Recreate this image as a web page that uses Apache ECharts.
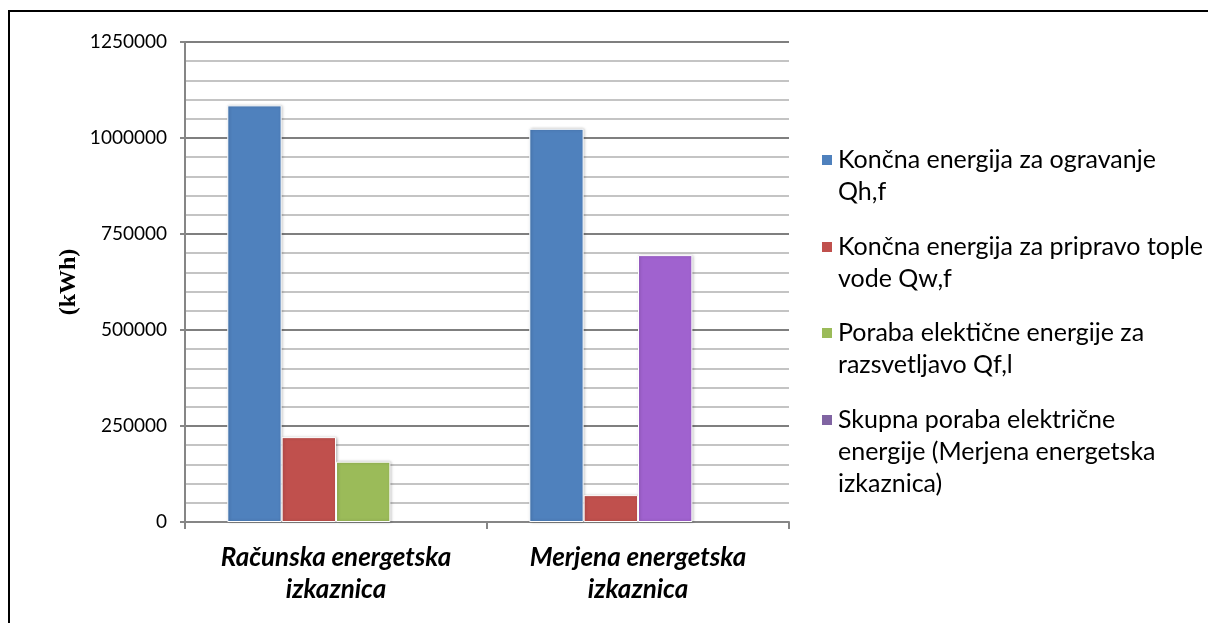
<!DOCTYPE html>
<html>
<head>
<meta charset="utf-8">
<script src="https://cdn.jsdelivr.net/npm/echarts@6/dist/echarts.min.js"></script>
<style>
  html, body { margin: 0; padding: 0; background: #fff; }
  #frame { position: absolute; left: 8px; top: 10px; width: 1300px; height: 700px;
           border-left: 2px solid #000; border-top: 2px solid #000; }
  #chart { position: absolute; left: 0; top: 0; width: 1208px; height: 623px; }
</style>
</head>
<body>
<div id="frame"></div>
<div id="chart"></div>
<script>
const categories = ['Računska energetska\nizkaznica', 'Merjena energetska\nizkaznica'];
const seriesNames = [
  'Končna energija za ogravanje\nQh,f',
  'Končna energija za pripravo tople\nvode Qw,f',
  'Poraba elektične energije za\nrazsvetljavo Qf,l',
  'Skupna poraba električne\nenergije (Merjena energetska\nizkaznica)'
];
const heating = [1085000, 1024000];
const hotWater = [221000, 70000];
const lighting = [157000, null];
const totalElectric = [null, 695000];
const yTicks = [0, 250000, 500000, 750000, 1000000, 1250000];

const colors = ['#4F81BD', '#C0504D', '#9BBB59', '#8064A2'];
const purpleBar = '#A062CF';
const font = 'Lato, "Open Sans", sans-serif';

// in the picture the purple bar sits in the third slot of the second group
const thirdSlot = lighting.map((v, i) =>
  v != null ? v : { value: totalElectric[i], itemStyle: { color: purpleBar } });

const barStyle = {
  borderColor: '#fff', borderWidth: 1,
  shadowColor: 'rgba(0,0,0,0.25)', shadowBlur: 3, shadowOffsetX: 1, shadowOffsetY: 0
};

// one legend per entry so the marker lines up with the first text line
const legendFirstLine = [160, 247, 333, 420];
const lineH = 32;
const legends = seriesNames.map((name, i) => {
  const n = name.split('\n').length;
  return {
    orient: 'vertical', left: 820, top: legendFirstLine[i] - (2 * n - 1) * lineH / 2,
    padding: 0, itemWidth: 12, itemHeight: 12, selectedMode: false,
    icon: 'rect',
    data: [{ name: name, itemStyle: { color: colors[i] } }],
    formatter: (s) => '\n'.repeat(n - 1) + s,
    textStyle: { fontFamily: font, fontSize: 25, color: '#000', lineHeight: lineH }
  };
});

const chart = echarts.init(document.getElementById('chart'));
chart.setOption({
  animation: false,
  backgroundColor: 'transparent',
  color: colors,
  legend: legends,
  grid: { left: 185, right: 419, top: 42, bottom: 101, containLabel: false },
  xAxis: {
    type: 'category',
    data: categories,
    axisLine: { lineStyle: { color: '#868686', width: 2 } },
    axisTick: { show: true, length: 7, alignWithLabel: false, lineStyle: { color: '#868686', width: 2 } },
    axisLabel: { margin: 20, fontFamily: font, fontSize: 26, fontWeight: 'bold', fontStyle: 'italic',
                 color: '#000', lineHeight: 32 }
  },
  yAxis: {
    type: 'value',
    min: yTicks[0], max: yTicks[yTicks.length - 1], interval: 250000,
    name: '(kWh)', nameLocation: 'middle', nameGap: 104, nameRotate: 90,
    nameTextStyle: { fontFamily: '"Liberation Serif", serif', fontWeight: 'bold', fontSize: 24, color: '#000' },
    axisLine: { show: true, lineStyle: { color: '#868686', width: 2 } },
    axisTick: { show: true, length: 5, lineStyle: { color: '#868686', width: 2 } },
    axisLabel: { margin: 18, fontFamily: font, fontSize: 19, color: '#000', formatter: (v) => String(v) },
    splitLine: { lineStyle: { color: '#7f7f7f', width: 2 } },
    minorTick: { show: false, splitNumber: 5 },
    minorSplitLine: { show: true, lineStyle: { color: '#c4c4c4', width: 2 } }
  },
  series: [
    { name: seriesNames[0], type: 'bar', data: heating, barGap: '0%', barCategoryGap: '28%', itemStyle: barStyle },
    { name: seriesNames[1], type: 'bar', data: hotWater, itemStyle: barStyle },
    { name: seriesNames[2], type: 'bar', data: thirdSlot, itemStyle: barStyle },
    { name: seriesNames[3], type: 'bar', data: [null, null], itemStyle: barStyle }
  ]
});
</script>
</body>
</html>
